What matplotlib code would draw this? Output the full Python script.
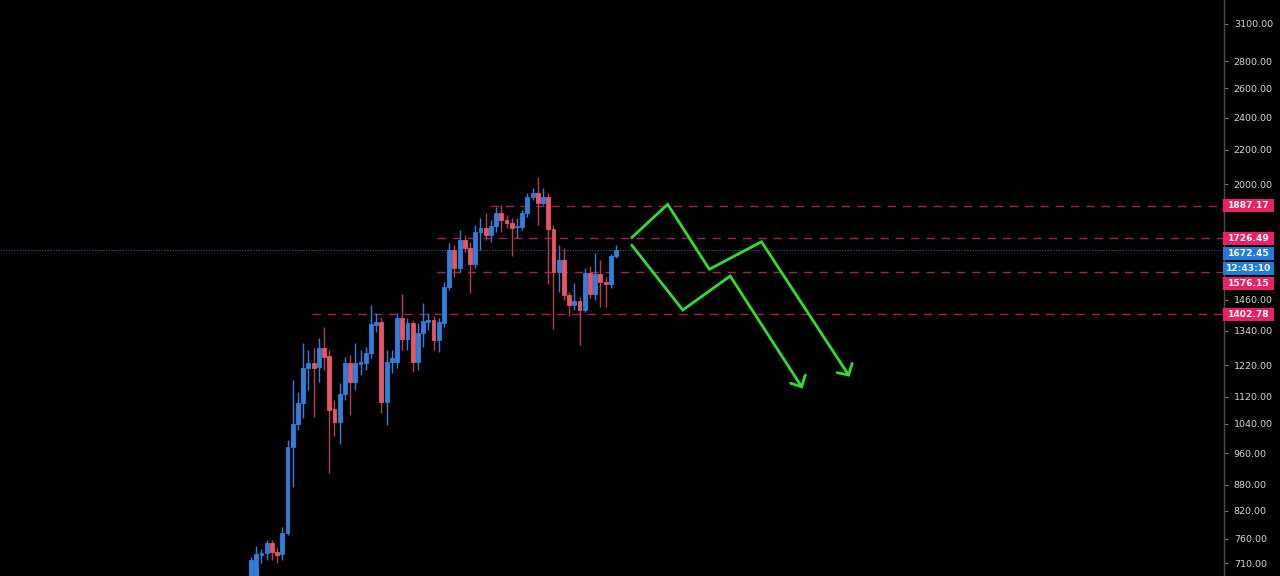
import numpy as np
import matplotlib
matplotlib.use("Agg")
import matplotlib.pyplot as plt
from matplotlib.ticker import FormatStrFormatter, NullLocator
from matplotlib.patches import Rectangle

# ---------------- data ----------------
opens = [669, 678.6, 726.6, 730.6, 750.9, 732.6, 728.5, 771.6, 976, 1039.5,
         1100.5, 1211, 1228, 1214, 1279, 1251.6, 1082.8, 1045, 1128, 1228,
         1165.6, 1224.6, 1228, 1261.7, 1362, 1373, 1103.6, 1231, 1231, 1388.5,
         1311, 1369.6, 1231, 1332.7, 1373.4, 1381, 1307, 1369.6, 1511, 1672,
         1591.5, 1718, 1680.8, 1609, 1756, 1775.5, 1742, 1785, 1850, 1815,
         1800, 1780, 1780, 1850, 1932, 1953.6, 1901, 1932, 1770.7, 1574.5,
         1627, 1478, 1438.5, 1454.3, 1419, 1570, 1482.5, 1565.8, 1532, 1523.7,
         1644.6]
highs = [723, 744.7, 738.5, 757, 757, 740.5, 784.3, 995, 1172, 1134,
         1296.8, 1272, 1279, 1314, 1354.7, 1272, 1110, 1162.6, 1248, 1255,
         1297, 1272, 1282.6, 1438.5, 1407, 1392, 1272, 1272, 1407, 1482.5,
         1388.5, 1381, 1369.6, 1446.5, 1407, 1396, 1388.5, 1532, 1704, 1694.8,
         1766, 1742, 1708.7, 1790, 1824.7, 1850, 1815, 1880, 1890.5, 1840,
         1824.7, 1824.7, 1865, 1953.6, 1980, 2041, 1980, 1953.6, 1790, 1694.8,
         1680.8, 1490.5, 1527.8, 1470, 1591.5, 1600, 1658.2, 1627, 1552.8, 1653.9,
         1694.8]
lows = [651, 669, 710.9, 717, 717, 711, 717, 768, 874.8, 1022,
        1056.5, 1140, 1059, 1165.6, 1204, 910, 1005.6, 984, 1110, 1065,
        1140, 1188, 1204, 1244.7, 1338, 1071, 1036.4, 1194.8, 1211, 1272,
        1272, 1197.8, 1204, 1282.6, 1344, 1272, 1265, 1354.7, 1499, 1552.8,
        1574.5, 1663, 1486.5, 1591.5, 1672, 1718, 1708.7, 1756, 1756, 1775.5,
        1644.6, 1727.7, 1766, 1829.6, 1916, 1790, 1890.5, 1523.7, 1347.3, 1490.5,
        1458, 1396, 1419, 1289.6, 1411.5, 1466.4, 1458, 1430.6, 1430.6, 1507,
        1636]
closes = [717, 728.5, 730.6, 750.9, 732.6, 726.6, 771.6, 975.9, 1039.5, 1100.5,
          1211, 1227.9, 1211, 1279, 1248, 1080, 1045, 1128, 1228, 1165.6,
          1228, 1231, 1261.7, 1366, 1373.4, 1103.6, 1231, 1244.7, 1388.5, 1311,
          1369.6, 1231, 1332.7, 1377, 1381, 1307, 1373.4, 1511, 1672, 1591.5,
          1718, 1680.8, 1609, 1756, 1775.5, 1742, 1785, 1850, 1815, 1800,
          1775.5, 1785, 1850, 1932, 1953.6, 1901, 1932, 1770.7, 1574.5, 1627,
          1478, 1438.5, 1454.3, 1419, 1570, 1482.5, 1565.8, 1532, 1523.7, 1644.6,
          1672.45]

y_ticks = [710, 760, 820, 880, 960, 1040, 1120, 1220, 1340, 1460, 1880,
           2000, 2200, 2400, 2600, 2800, 3100]

level_prices = [1887.17, 1726.49, 1576.15, 1402.78]
level_start = [45.8, 35.7, 35.7, 11.7]   # bar index where each level begins
current_price = 1672.45
countdown = "12:43:10"

# hand-drawn projection arrows (bar index, price)
arrow1_x = [73.0, 79.9, 87.9, 97.9, 114.6]
arrow1_y = [1728.9, 1894, 1586, 1710, 1188.2]
arrow1_head_x = [112.4, 114.6, 115.3]
arrow1_head_y = [1195.7, 1188.2, 1226.7]
arrow2_x = [73.0, 82.8, 91.9, 105.6]
arrow2_y = [1694.8, 1419, 1557, 1150.7]
arrow2_head_x = [103.5, 105.6, 106.3]
arrow2_head_y = [1161.6, 1150.7, 1188.2]

# ---------------- style ----------------
UP = "#2f7fdc"
DOWN = "#ea5565"
PINK = "#ee1f64"
BLUE = "#1f7ddc"
GREEN = "#2ee02e"
BG = "black"

W, H = 1280, 576
fig = plt.figure(figsize=(W / 100, H / 100), dpi=100, facecolor=BG)
ax = fig.add_axes([0, 0, 1224 / W, 1])
ax.set_facecolor(BG)
ax.set_yscale("log")
ax.set_ylim(686.1, 3310)
ax.set_xlim(-48.14, 186.6)

idx = np.arange(len(opens))
for i in idx:
    o, h, l, c = opens[i], highs[i], lows[i], closes[i]
    col = UP if c >= o else DOWN
    wick = UP if c >= o else "#b8404c"
    ax.vlines(i, l, h, color=wick, lw=1.0, zorder=3)
    ax.bar(i, abs(c - o), bottom=min(o, c), width=0.74, color=col,
           edgecolor=col, linewidth=0.6, zorder=4)

# horizontal levels
for p, s in zip(level_prices, level_start):
    ax.hlines(p, s, 186.6, colors="#a82149", lw=1.0, linestyles=(0, (6, 5)), zorder=2)
ax.axhline(current_price, color="#2a5b9e", lw=0.8, ls=(0, (1, 1.5)), zorder=2)

# projection arrows
for xs, ys in [(arrow1_x, arrow1_y), (arrow1_head_x, arrow1_head_y),
               (arrow2_x, arrow2_y), (arrow2_head_x, arrow2_head_y)]:
    ax.plot(xs, ys, color=GREEN, lw=2.0, solid_joinstyle="miter",
            solid_capstyle="round", zorder=5)

# axis styling
ax.set_xticks([])
for s in ["top", "left", "bottom"]:
    ax.spines[s].set_visible(False)
ax.spines["right"].set_color("#4a4a4a")
ax.spines["right"].set_linewidth(1.0)
ax.yaxis.tick_right()
ax.set_yticks(y_ticks)
ax.yaxis.set_major_formatter(FormatStrFormatter("%.2f"))
ax.yaxis.set_minor_locator(NullLocator())
ax.tick_params(axis="y", colors="#d6d6d6", labelsize=6.8, length=3,
               width=0.8, pad=4)
ax.tick_params(axis="y", color="#777777")

# price labels on the axis
fig.canvas.draw()
def img_y(price):
    return H - ax.transData.transform((0, price))[1]

items = [(f"{level_prices[0]:.2f}", img_y(level_prices[0]), PINK),
         (f"{level_prices[1]:.2f}", img_y(level_prices[1]), PINK),
         (f"{current_price:.2f}", img_y(current_price), BLUE),
         (countdown, None, BLUE),
         (f"{level_prices[2]:.2f}", img_y(level_prices[2]), PINK),
         (f"{level_prices[3]:.2f}", img_y(level_prices[3]), PINK)]
placed = []
prev = -100
for txt, y, col in items:
    if y is None:
        y = prev + 15
    y = max(y, prev + 15)
    placed.append((txt, y, col))
    prev = y

bh = 13
for txt, y, col in placed:
    rect = Rectangle((1223 / W, (H - y - bh / 2) / H), 51 / W, bh / H,
                     transform=fig.transFigure, facecolor=col, edgecolor="none",
                     zorder=10)
    fig.add_artist(rect)
    fig.text(1248.5 / W, (H - y) / H, txt, color="white", fontsize=6.6,
             fontweight="bold", ha="center", va="center", zorder=11)

fig.savefig("out.png", dpi=100, facecolor=BG)
